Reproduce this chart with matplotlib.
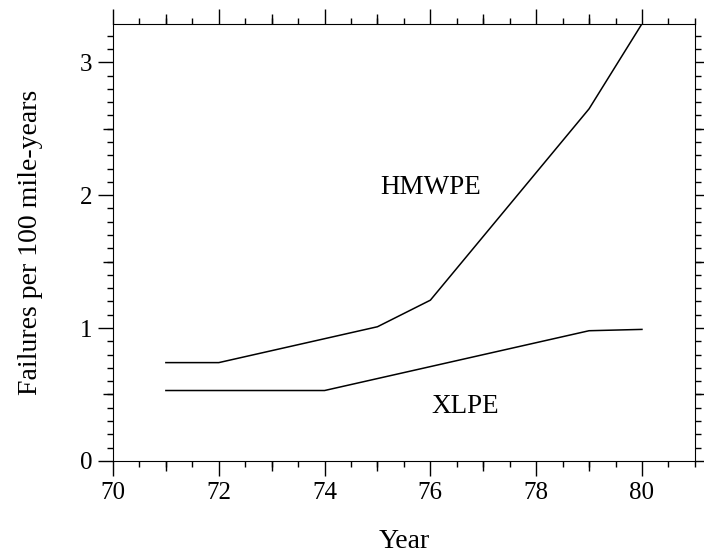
import numpy as np
import matplotlib.pyplot as plt
from matplotlib.ticker import MultipleLocator, NullFormatter

plt.rcParams['font.family'] = ['Liberation Serif', 'DejaVu Serif']

# data
hmwpe_year = [71, 72, 75, 76, 79, 80]
hmwpe_rate = [0.74, 0.74, 1.01, 1.21, 2.65, 3.29]
xlpe_year = [71, 74, 79, 80]
xlpe_rate = [0.53, 0.53, 0.98, 0.99]

fig = plt.figure(figsize=(7.04, 5.54), dpi=100)
ax = fig.add_axes([0.1605, 0.168, 0.8265, 0.789])

ax.plot(hmwpe_year, hmwpe_rate, color='black', lw=1.1)
ax.plot(xlpe_year, xlpe_rate, color='black', lw=1.1)

ax.text(76.0, 2.06, 'HMWPE', fontsize=19.5, ha='center', va='center')
ax.text(76.65, 0.41, 'XLPE', fontsize=19.5, ha='center', va='center')

ax.set_xlim(70, 81)
ax.set_ylim(0, 3.29)
ax.xaxis.set_major_locator(MultipleLocator(2))
ax.xaxis.set_minor_locator(MultipleLocator(0.5))
ax.yaxis.set_major_locator(MultipleLocator(1))
ax.yaxis.set_minor_locator(MultipleLocator(0.1))

ax.tick_params(which='both', direction='out', top=True, right=True, width=1, color='black')
ax.tick_params(which='major', length=11, labelsize=18, pad=4)
ax.tick_params(which='minor', length=4)

# medium-length ticks at odd years and half units
for side in ['bottom', 'top']:
    sx = ax.secondary_xaxis(side)
    sx.set_xticks(np.arange(71, 81, 2))
    sx.xaxis.set_major_formatter(NullFormatter())
    sx.tick_params(direction='out', length=7, width=1)
    sx.spines[side].set_visible(False)
for side in ['left', 'right']:
    sy = ax.secondary_yaxis(side)
    sy.set_yticks(np.arange(0.5, 3.3, 1))
    sy.yaxis.set_major_formatter(NullFormatter())
    sy.tick_params(direction='out', length=7, width=1)
    sy.spines[side].set_visible(False)

ax.set_xlabel('Year', fontsize=20)
ax.set_ylabel('Failures per 100 mile-years', fontsize=20)
ax.xaxis.set_label_coords(0.5, -0.155)
ax.yaxis.set_label_coords(-0.12, 0.5)

fig.savefig('out.png', dpi=100)
